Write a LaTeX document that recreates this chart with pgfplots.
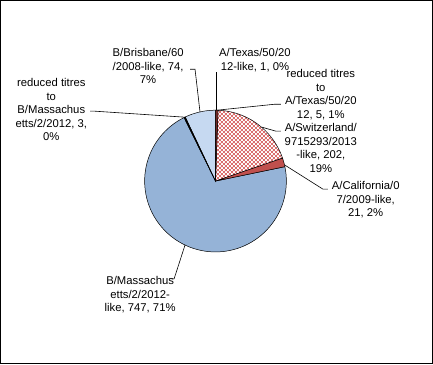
\documentclass[border=0pt]{standalone}
\usepackage{pgfplots}
\pgfplotsset{compat=1.18}
\usepackage{fontspec}
\setmainfont{Liberation Sans}
\usetikzlibrary{patterns}
\definecolor{bmass}{HTML}{95B3D7}
\definecolor{bris}{HTML}{C6D9F1}
\definecolor{calif}{HTML}{C0504D}
\definecolor{texas}{HTML}{632523}
\definecolor{redtex}{HTML}{953735}
\definecolor{swiss}{RGB}{218,110,110}
\pgfdeclarepatternformonly{smallchecker}{\pgfqpoint{0pt}{0pt}}{\pgfqpoint{4pt}{4pt}}{\pgfqpoint{4pt}{4pt}}{%
  \pgfpathrectangle{\pgfqpoint{0pt}{0pt}}{\pgfqpoint{2pt}{2pt}}%
  \pgfpathrectangle{\pgfqpoint{2pt}{2pt}}{\pgfqpoint{2pt}{2pt}}%
  \pgfusepath{fill}}
\tikzset{lbl/.style={font=\fontsize{11.3}{13.6}\selectfont, align=center, inner sep=0pt}}
\begin{document}
\begin{tikzpicture}
% slice values, clockwise from 12 o'clock
\def\vA{1}\def\vB{5}\def\vC{202}\def\vD{21}\def\vE{747}\def\vF{3}\def\vG{74}
\pgfmathsetmacro{\tot}{\vA+\vB+\vC+\vD+\vE+\vF+\vG}
\pgfmathsetmacro{\k}{360/\tot}
\pgfmathsetmacro{\aA}{90}
\pgfmathsetmacro{\aB}{\aA-\k*\vA}
\pgfmathsetmacro{\aC}{\aB-\k*\vB}
\pgfmathsetmacro{\aD}{\aC-\k*\vC}
\pgfmathsetmacro{\aE}{\aD-\k*\vD}
\pgfmathsetmacro{\aF}{\aE-\k*\vE}
\pgfmathsetmacro{\aG}{\aF-\k*\vF}
\pgfmathsetmacro{\aH}{\aG-\k*\vG}
\begin{axis}[scale only axis, width=433pt, height=364pt,
  xmin=0, xmax=433, ymin=0, ymax=364, y dir=reverse,
  xtick=\empty, ytick=\empty, axis line style={line width=0.8pt},
  clip=false,
  slice/.style={draw=black, line width=0.5pt, variable=\t}]
\addplot[slice, fill=bmass, domain=\aF:\aE, samples=80] ({215.5+71*cos(\t)},{181-71*sin(\t)}) -- (axis cs:215.5,181) -- cycle;
\addplot[slice, fill=bris, domain=\aH:\aG, samples=12] ({215.5+71*cos(\t)},{181-71*sin(\t)}) -- (axis cs:215.5,181) -- cycle;
\addplot[slice, fill=black, domain=\aG:\aF, samples=2] ({215.5+71*cos(\t)},{181-71*sin(\t)}) -- (axis cs:215.5,181) -- cycle;
\addplot[slice, pattern=smallchecker, pattern color=swiss, domain=\aD:\aC, samples=30] ({215.5+71*cos(\t)},{181-71*sin(\t)}) -- (axis cs:215.5,181) -- cycle;
\addplot[slice, fill=calif, domain=\aE:\aD, samples=4] ({215.5+71*cos(\t)},{181-71*sin(\t)}) -- (axis cs:215.5,181) -- cycle;
\addplot[slice, fill=redtex, domain=\aC:\aB, samples=2] ({215.5+71*cos(\t)},{181-71*sin(\t)}) -- (axis cs:215.5,181) -- cycle;
\addplot[slice, fill=texas, domain=\aB:\aA, samples=2] ({215.5+71*cos(\t)},{181-71*sin(\t)}) -- (axis cs:215.5,181) -- cycle;
% leader lines
\draw[line width=0.6pt] (axis cs:216,110) -- (axis cs:216,72);
\draw[line width=0.6pt] (axis cs:217,110) -- (axis cs:275,104) -- (axis cs:281,104);
\draw[line width=0.6pt] (axis cs:262,127) -- (axis cs:276,131) -- (axis cs:281,131);
\draw[line width=0.6pt] (axis cs:285,165) -- (axis cs:323,189) -- (axis cs:328,189);
\draw[line width=0.6pt] (axis cs:185,245) -- (axis cs:174,279) -- (axis cs:169,279);
\draw[line width=0.6pt] (axis cs:185,117) -- (axis cs:95,111) -- (axis cs:90,111);
\draw[line width=0.6pt] (axis cs:200,112) -- (axis cs:195,69) -- (axis cs:190,69);
% labels
\node[lbl] at (axis cs:255,60) {A/Texas/50/20\\12-like, 1, 0\%};
\node[lbl] at (axis cs:321,94.5) {reduced titres\\to\\A/Texas/50/20\\12, 5, 1\%};
\node[lbl] at (axis cs:321,148) {A/Switzerland/\\9715293/2013\\-like, 202,\\19\%};
\node[lbl] at (axis cs:366,200) {A/California/0\\7/2009-like,\\21, 2\%};
\node[lbl] at (axis cs:140,295) {B/Massachus\\etts/2/2012-\\like, 747, 71\%};
\node[lbl] at (axis cs:51,109.5) {reduced titres\\to\\B/Massachus\\etts/2/2012, 3,\\0\%};
\node[lbl] at (axis cs:148,66) {B/Brisbane/60\\/2008-like, 74,\\7\%};
\end{axis}
\end{tikzpicture}
\end{document}
